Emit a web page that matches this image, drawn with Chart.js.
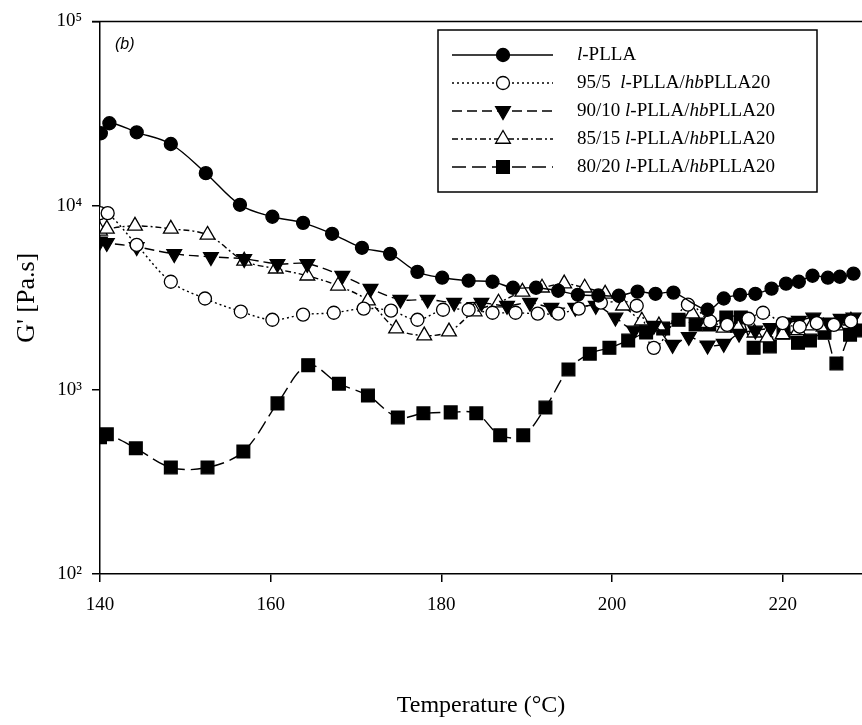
<!DOCTYPE html>
<html lang="en">
<head>
<meta charset="UTF-8">
<title>G' vs temperature</title>
<script src="https://cdn.jsdelivr.net/npm/chart.js@4.4.0/dist/chart.umd.min.js"></script>
<style>
    html, body { margin: 0; padding: 0; background: #fff; overflow: hidden; }
</style>
</head>
<body>
<canvas id="gChart" width="862" height="725"></canvas>
<script>
    // values (temperature in C, G' in Pa.s)
    var seriesNames = ['l-PLLA', '95/5  l-PLLA/hbPLLA20', '90/10 l-PLLA/hbPLLA20', '85/15 l-PLLA/hbPLLA20', '80/20 l-PLLA/hbPLLA20'];

    var tempA = [140.1, 141.1, 144.3, 148.3, 152.4, 156.4, 160.2, 163.8, 167.2, 170.7, 174.0, 177.2, 180.1, 183.2, 186.0, 188.4, 191.1, 193.7, 196.0, 198.4, 200.8, 203.0, 205.1, 207.2, 211.2, 213.1, 215.0, 216.8, 218.7, 220.4, 221.9, 223.5, 225.3, 226.7, 228.3];
    var gA = [24700, 28000, 25000, 21600, 15000, 10100, 8700, 8060, 7030, 5900, 5470, 4370, 4060, 3910, 3860, 3580, 3580, 3450, 3280, 3250, 3240, 3410, 3320, 3370, 2720, 3130, 3280, 3320, 3540, 3770, 3860, 4160, 4060, 4110, 4270];

    var tempB = [140.0, 140.9, 144.3, 148.3, 152.3, 156.5, 160.2, 163.8, 167.4, 170.9, 174.1, 177.2, 180.2, 183.2, 186.0, 188.7, 191.3, 193.7, 196.1, 198.7, 202.9, 204.9, 208.9, 211.5, 213.5, 216.0, 217.7, 220.0, 222.0, 224.0, 226.0, 228.0];
    var gB = [9100, 9100, 6120, 3860, 3130, 2660, 2400, 2560, 2620, 2760, 2690, 2400, 2720, 2720, 2620, 2620, 2590, 2590, 2760, 2970, 2860, 1690, 2900, 2350, 2250, 2430, 2620, 2300, 2200, 2300, 2250, 2350];

    var tempC = [140.0, 140.8, 144.3, 148.7, 153.0, 156.9, 160.8, 164.3, 168.4, 171.7, 175.2, 178.4, 181.5, 184.7, 187.7, 190.4, 192.9, 195.7, 198.1, 200.4, 202.6, 204.9, 207.1, 209.0, 211.2, 213.1, 214.9, 216.8, 218.6, 220.4, 221.9, 223.6, 225.3, 226.8, 228.3];
    var gC = [6400, 6280, 5970, 5470, 5270, 5140, 4830, 4830, 4160, 3540, 3090, 3090, 2970, 2970, 2860, 2970, 2790, 2790, 2860, 2470, 2100, 2230, 1760, 1940, 1740, 1780, 2020, 2100, 2170, 2320, 2370, 2470, 2320, 2430, 2470];

    var tempD = [140.0, 140.8, 144.1, 148.3, 152.6, 156.9, 160.6, 164.3, 167.9, 171.4, 174.7, 178.0, 180.9, 183.9, 186.7, 189.5, 191.8, 194.4, 196.8, 199.2, 201.3, 203.5, 205.5, 209.4, 211.2, 213.1, 214.8, 216.7, 218.2, 220.0, 221.8, 223.4, 224.8, 226.3, 228.0];
    var gD = [7300, 7480, 7760, 7480, 6930, 5010, 4540, 4160, 3670, 3050, 2150, 1970, 2070, 2660, 2970, 3400, 3580, 3770, 3580, 3320, 2860, 2370, 2230, 2590, 2300, 2170, 2170, 2040, 1920, 2000, 2100, 2230, 2200, 2230, 2370];

    var tempE = [140.0, 140.8, 144.2, 148.3, 152.6, 156.8, 160.8, 164.4, 168.0, 171.4, 174.9, 177.9, 181.1, 184.1, 186.9, 189.6, 192.2, 194.9, 197.4, 199.7, 201.9, 204.0, 206.0, 207.8, 209.8, 211.4, 213.4, 215.1, 216.6, 218.5, 220.1, 221.8, 223.2, 224.9, 226.3, 227.9, 228.9];
    var gE = [552, 573, 481, 379, 379, 463, 844, 1360, 1080, 931, 708, 745, 754, 745, 566, 566, 801, 1290, 1570, 1690, 1850, 2050, 2150, 2400, 2260, 2260, 2470, 2470, 1690, 1720, 2040, 1800, 1850, 2040, 1390, 1990, 2100];

    var xTicks = [140, 160, 180, 200, 220];
    var yTicks = [100, 1000, 10000, 100000];
    var yTickLabels = ['10\u00B2', '10\u00B3', '10\u2074', '10\u2075'];

    function pairs(xs, ys) {
        var out = [];
        for (var i = 0; i < xs.length; i++) {
            out.push({x: xs[i], y: ys[i]});
        }
        return out;
    }

    var serif = 'Liberation Serif';

    function makeSet(i, xs, ys, style) {
        return {
            label: seriesNames[i],
            data: pairs(xs, ys),
            borderColor: '#000',
            borderWidth: 1.4,
            borderDash: style.dash,
            tension: 0.35,
            pointStyle: style.shape,
            pointRotation: style.rot || 0,
            pointRadius: style.r,
            pointBackgroundColor: style.fill,
            pointBorderColor: '#000',
            pointBorderWidth: 1.3
        };
    }

    var dataSets = [
        makeSet(0, tempA, gA, {dash: [], shape: 'circle', r: 6.5, fill: '#000'}),
        makeSet(1, tempB, gB, {dash: [2, 3], shape: 'circle', r: 6.5, fill: '#fff'}),
        makeSet(2, tempC, gC, {dash: [10, 5], shape: 'triangle', rot: 180, r: 8.5, fill: '#000'}),
        makeSet(3, tempD, gD, {dash: [6, 3, 2, 3], shape: 'triangle', r: 8.5, fill: '#fff'}),
        makeSet(4, tempE, gE, {dash: [14, 6], shape: 'rect', r: 9, fill: '#000'})
    ];

    // legend box, frame top and panel tag
    var extras = {
        id: 'extras',
        afterDraw: function (chart) {
            var ctx = chart.ctx;
            var area = chart.chartArea;
            ctx.save();
            ctx.strokeStyle = '#000';
            ctx.lineWidth = 1.5;
            ctx.beginPath();
            ctx.moveTo(area.left - 8, area.top);
            ctx.lineTo(chart.width, area.top);
            ctx.stroke();

            ctx.fillStyle = '#000';
            ctx.font = 'italic 16px "Liberation Sans"';
            ctx.textBaseline = 'middle';
            ctx.textAlign = 'left';
            ctx.fillText('(b)', 115, 45);

            ctx.lineWidth = 1.5;
            ctx.strokeRect(438, 30, 379, 162);

            chart.data.datasets.forEach(function (ds, i) {
                var y = 55 + i * 28;
                ctx.save();
                ctx.lineWidth = ds.borderWidth;
                ctx.setLineDash(ds.borderDash);
                ctx.beginPath();
                ctx.moveTo(452, y);
                ctx.lineTo(553, y);
                ctx.stroke();
                ctx.restore();
                ctx.save();
                ctx.fillStyle = ds.pointBackgroundColor;
                ctx.strokeStyle = '#000';
                ctx.lineWidth = ds.pointBorderWidth;
                Chart.helpers.drawPoint(ctx, {
                    pointStyle: ds.pointStyle,
                    rotation: ds.pointRotation,
                    radius: ds.pointRadius,
                    borderWidth: ds.pointBorderWidth
                }, 503, y);
                ctx.restore();

                // italic l and hb
                var parts = ds.label.split(/(l(?=-)|hb)/);
                var x = 577;
                ctx.textBaseline = 'middle';
                parts.forEach(function (p) {
                    if (!p) return;
                    var it = (p === 'l' || p === 'hb');
                    ctx.font = (it ? 'italic ' : '') + '19px "' + serif + '"';
                    ctx.fillStyle = '#000';
                    ctx.fillText(p, x, y);
                    x += ctx.measureText(p).width;
                });
            });
            ctx.restore();
        }
    };

    var ctx = document.getElementById('gChart');
    var myChart = new Chart(ctx, {
        type: 'line',
        data: {datasets: dataSets},
        options: {
            responsive: false,
            animation: false,
            layout: {autoPadding: false, padding: {top: 20, right: 0, left: 0, bottom: 0}},
            plugins: {legend: {display: false}, tooltip: {enabled: false}},
            scales: {
                x: {
                    type: 'linear',
                    min: 140,
                    max: 229.3,
                    afterBuildTicks: function (scale) {
                        scale.ticks = xTicks.map(function (v) { return {value: v}; });
                    },
                    afterFit: function (scale) { scale.height = 151; },
                    grid: {drawOnChartArea: false, color: '#000', tickLength: 8, lineWidth: 1.5},
                    border: {color: '#000', width: 1.5},
                    ticks: {color: '#000', padding: 12, maxRotation: 0, font: {family: serif, size: 19}},
                    title: {display: true, text: 'Temperature (\u00B0C)', color: '#000',
                        font: {family: serif, size: 24}, padding: {top: 0, bottom: 5}}
                },
                y: {
                    type: 'logarithmic',
                    min: 100,
                    max: 100000,
                    afterBuildTicks: function (scale) {
                        scale.ticks = yTicks.map(function (v) { return {value: v}; });
                    },
                    afterFit: function (scale) { scale.width = 100; },
                    grid: {drawOnChartArea: false, color: '#000', tickLength: 8, lineWidth: 1.5},
                    border: {color: '#000', width: 1.5},
                    ticks: {
                        color: '#000', padding: 10, font: {family: serif, size: 19},
                        callback: function (v) {
                            var k = yTicks.indexOf(v);
                            return k >= 0 ? yTickLabels[k] : '';
                        }
                    },
                    title: {display: true, text: "G' [Pa.s]", color: '#000',
                        font: {family: serif, size: 26}, padding: {top: 12, bottom: 0}}
                }
            }
        },
        plugins: [extras]
    });
</script>
</body>
</html>
